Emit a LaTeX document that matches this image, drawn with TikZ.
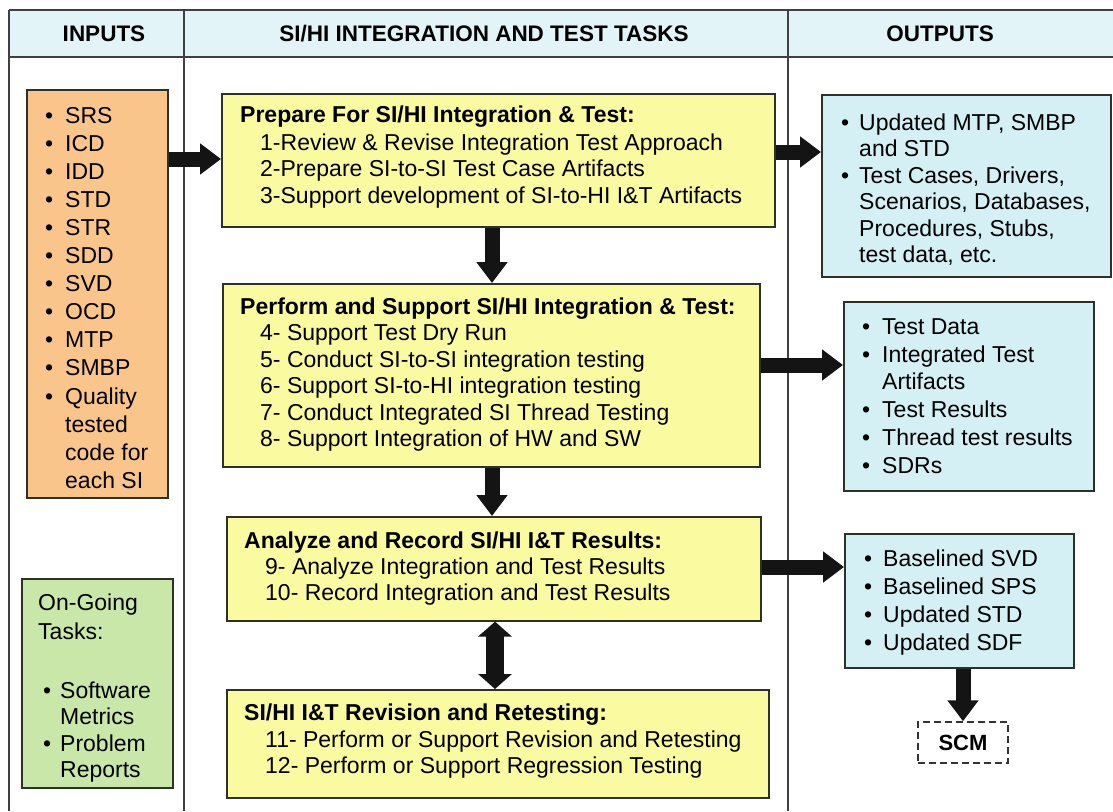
\documentclass[tikz,border=0pt]{standalone}
\usepackage{fontspec}
\setmainfont{Liberation Sans}
\usetikzlibrary{arrows.meta}
\definecolor{hdr}{RGB}{226,244,248}
\definecolor{orng}{RGB}{249,197,138}
\definecolor{grn}{RGB}{202,231,170}
\definecolor{ylw}{RGB}{250,250,160}
\definecolor{cyn}{RGB}{212,240,245}
\definecolor{edge}{RGB}{45,50,40}
\definecolor{arr}{RGB}{20,20,20}
\newcommand\mybul[1]{\makebox[#1pt][l]{\textbullet}}
\begin{document}
\begin{tikzpicture}[x=1pt,y=-1pt,
  box/.style={draw=edge, line width=1.6pt, anchor=north west, inner sep=0pt},
  frame/.style={draw=black!75, line width=2pt},
  txt/.style={anchor=base west, inner sep=0pt, font=\fontsize{23}{28}\selectfont},
  ttl/.style={anchor=base west, inner sep=0pt, font=\fontsize{23}{28}\selectfont\bfseries},
  hd/.style={inner sep=0pt, font=\fontsize{22.5}{26}\selectfont\bfseries},
  bigarrow/.style={draw=arr, line width=15pt, -{Triangle[width=30pt,length=21pt]}},
  dblarrow/.style={draw=arr, line width=18pt, {Triangle[width=33pt,length=15pt]}-{Triangle[width=33pt,length=15pt]}}
]
\useasboundingbox (0,0) rectangle (1113,811);
% header and frame
\fill[hdr] (9,10) rectangle (1113,57);
\draw[frame] (9,10) -- (1113,10);
\draw[frame] (9,57) -- (1113,57);
\draw[frame] (9,10) -- (9,811);
\draw[frame] (184,10) -- (184,811);
\draw[frame] (788,10) -- (788,811);
\node[hd] (h1) at (104,34) {INPUTS};
\node[hd] (h2) at (484,34) {SI/HI INTEGRATION AND TEST TASKS};
\node[hd] (h3) at (940,34) {OUTPUTS};

% input boxes
\node[box, fill=orng, minimum width=141pt, minimum height=408pt] (inb) at (26,89) {};
\foreach \t [count=\i from 0] in {SRS,ICD,IDD,STD,STR,SDD,SVD,OCD,MTP,SMBP,Quality}
  \node[txt] (in\i) at (45,{123+28.1*\i}) {\mybul{20}\t};
\foreach \t [count=\i from 11] in {tested,code for,each SI}
  \node[txt] (in\i) at (65,{123+28.1*\i}) {\t};

\node[box, fill=grn, minimum width=151pt, minimum height=209pt] (gb) at (21,578) {};
\node[txt] (g1) at (38,610) {On-Going};
\node[txt] (g2) at (38,639) {Tasks:};
\node[txt] (g3) at (43,698) {\mybul{17}Software};
\node[txt] (g4) at (60,724) {Metrics};
\node[txt] (g5) at (43,751) {\mybul{17}Problem};
\node[txt] (g6) at (60,777) {Reports};

% task boxes
\node[box, fill=ylw, minimum width=553pt, minimum height=133pt] (t1) at (221,93) {};
\node[ttl] (t1a) at (240,122) {Prepare For SI/HI Integration \& Test:};
\node[txt] (t1b) at (260,150) {1-Review \& Revise Integration Test Approach};
\node[txt] (t1c) at (260,176.5) {2-Prepare SI-to-SI Test Case Artifacts};
\node[txt] (t1d) at (260,203) {3-Support development of SI-to-HI I\&T Artifacts};

\node[box, fill=ylw, minimum width=537pt, minimum height=183pt] (t2) at (222,283) {};
\node[ttl] (t2a) at (240,314) {Perform and Support SI/HI Integration \& Test:};
\node[txt] (t2b) at (260,340.5) {4- Support Test Dry Run};
\node[txt] (t2c) at (260,367) {5- Conduct SI-to-SI integration testing};
\node[txt] (t2d) at (260,393.5) {6- Support SI-to-HI integration testing};
\node[txt] (t2e) at (260,420) {7- Conduct Integrated SI Thread Testing};
\node[txt] (t2f) at (260,446.5) {8- Support Integration of HW and SW};

\node[box, fill=ylw, minimum width=534pt, minimum height=104pt] (t3) at (226,516) {};
\node[ttl] (t3a) at (244,548) {Analyze and Record SI/HI I\&T Results:};
\node[txt] (t3b) at (265,574) {9- Analyze Integration and Test Results};
\node[txt] (t3c) at (265,600) {10- Record Integration and Test Results};

\node[box, fill=ylw, minimum width=542pt, minimum height=108pt] (t4) at (226,689) {};
\node[ttl] (t4a) at (244,720) {SI/HI I\&T Revision and Retesting:};
\node[txt] (t4b) at (265,747) {11- Perform or Support Revision and Retesting};
\node[txt] (t4c) at (265,773) {12- Perform or Support Regression Testing};

% output boxes
\node[box, fill=cyn, minimum width=289pt, minimum height=182pt] (o1) at (821,94) {};
\node[txt] (o1a) at (841,130) {\mybul{18}Updated MTP, SMBP};
\node[txt] (o1b) at (859,156.5) {and STD};
\node[txt] (o1c) at (841,183) {\mybul{18}Test Cases, Drivers,};
\node[txt] (o1d) at (859,209.5) {Scenarios, Databases,};
\node[txt] (o1e) at (859,236) {Procedures, Stubs,};
\node[txt] (o1f) at (859,262.5) {test data, etc.};

\node[box, fill=cyn, minimum width=250pt, minimum height=189pt] (o2) at (843,301) {};
\node[txt] (o2a) at (862,334.5) {\mybul{20}Test Data};
\node[txt] (o2b) at (862,362.2) {\mybul{20}Integrated Test};
\node[txt] (o2c) at (882,389.9) {Artifacts};
\node[txt] (o2d) at (862,417.6) {\mybul{20}Test Results};
\node[txt] (o2e) at (862,445.3) {\mybul{20}Thread test results};
\node[txt] (o2f) at (862,473) {\mybul{20}SDRs};

\node[box, fill=cyn, minimum width=229pt, minimum height=134pt] (o3) at (844,533) {};
\foreach \t [count=\i from 0] in {Baselined SVD,Baselined SPS,Updated STD,Updated SDF}
  \node[txt] (o3l\i) at (864,{566+28*\i}) {\mybul{19}\t};

\node[draw=black!80, line width=1.5pt, dash pattern=on 7pt off 4pt, minimum width=90pt, minimum height=41pt, inner sep=0pt, font=\fontsize{22}{26}\selectfont\bfseries] (scm) at (963,742.5) {SCM};

% connectors
\coordinate (ya) at (0,159);
\coordinate (yb) at (0,152);
\coordinate (yc) at (0,365);
\coordinate (yd) at (0,567);
\coordinate (xa) at (492,0);
\coordinate (xb) at (495,0);
\coordinate (xc) at (963,0);
\draw[bigarrow] (inb.east |- ya) -- (t1.west |- ya);
\draw[bigarrow] (t1.east |- yb) -- (o1.west |- yb);
\draw[bigarrow] (t2.east |- yc) -- (o2.west |- yc);
\draw[bigarrow] (t3.east |- yd) -- (o3.west |- yd);
\draw[bigarrow] (t1.south -| xa) -- (t2.north -| xa);
\draw[bigarrow] (t2.south -| xa) -- (t3.north -| xa);
\draw[dblarrow] (t3.south -| xb) -- (t4.north -| xb);
\draw[bigarrow] (o3.south -| xc) -- (scm.north -| xc);
\end{tikzpicture}
\end{document}
